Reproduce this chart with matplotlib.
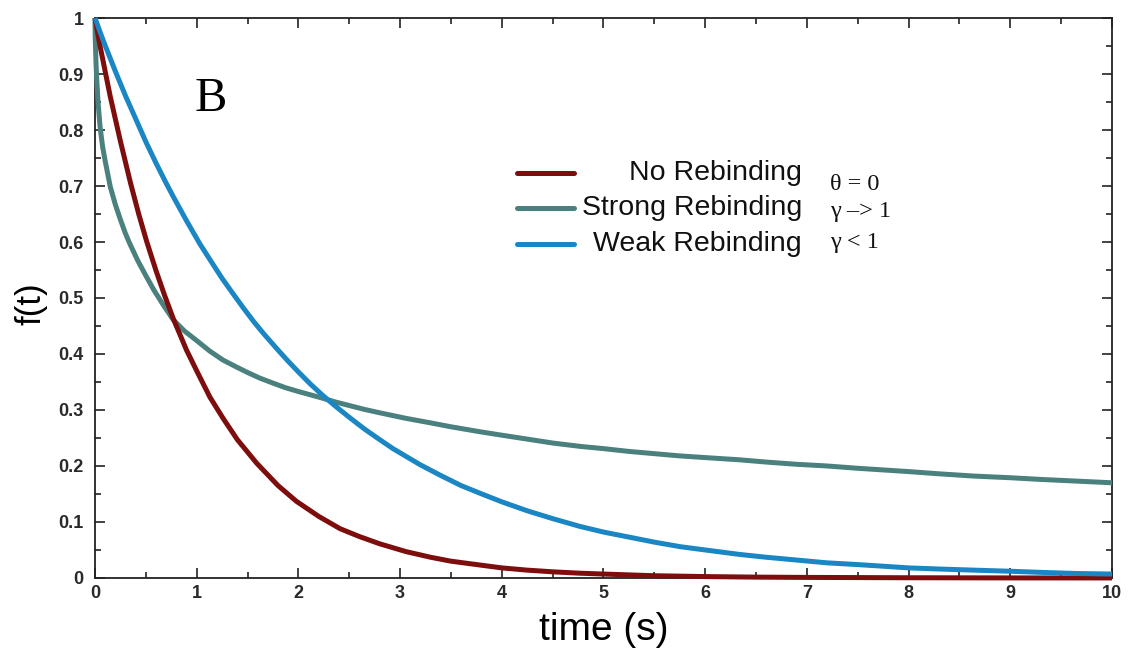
import matplotlib
matplotlib.use("Agg")
import matplotlib.pyplot as plt
from matplotlib.ticker import MultipleLocator, FuncFormatter
from matplotlib.lines import Line2D

# ---- data ----
x_none = [0, 0.05, 0.1, 0.15, 0.25, 0.35, 0.43, 0.51, 0.6, 0.68, 0.77, 0.9,
          1.0, 1.13, 1.26, 1.4, 1.59, 1.8, 1.98, 2.2, 2.41, 2.6, 2.8, 3.06,
          3.3, 3.5, 3.79, 4.0, 4.25, 4.5, 4.77, 5.0, 5.5, 6.0, 6.5, 7.0, 8.0,
          9.0, 10.0]
y_none = [1.0, 0.95, 0.905, 0.86, 0.78, 0.705, 0.65, 0.60, 0.549, 0.507,
          0.463, 0.407, 0.37, 0.323, 0.285, 0.247, 0.205, 0.165, 0.137, 0.11,
          0.088, 0.074, 0.061, 0.047, 0.037, 0.030, 0.023, 0.018, 0.014,
          0.011, 0.0085, 0.007, 0.004, 0.0025, 0.0015, 0.001, 0.0004, 0.0001,
          0.0]

x_strong = [0, 0.002, 0.005, 0.01, 0.016, 0.03, 0.05, 0.075, 0.1, 0.15, 0.2,
            0.25, 0.3, 0.34, 0.42, 0.5, 0.58, 0.67, 0.77, 0.88, 1.0, 1.13,
            1.26, 1.4, 1.5, 1.62, 1.75, 1.87, 2.0, 2.12, 2.24, 2.37, 2.5,
            2.65, 2.8, 3.06, 3.3, 3.5, 3.79, 4.0, 4.25, 4.5, 4.77, 5.0, 5.25,
            5.5, 5.75, 6.0, 6.34, 6.6, 6.9, 7.2, 7.49, 8.0, 8.3, 8.64, 9.0,
            9.3, 9.65, 10.0]
y_strong = [1.0, 0.97, 0.95, 0.92, 0.895, 0.85, 0.806, 0.77, 0.745, 0.699,
            0.667, 0.64, 0.615, 0.598, 0.567, 0.54, 0.514, 0.488, 0.461,
            0.441, 0.424, 0.405, 0.389, 0.376, 0.367, 0.357, 0.348, 0.340,
            0.333, 0.327, 0.321, 0.314, 0.308, 0.301, 0.295, 0.285, 0.277,
            0.270, 0.261, 0.255, 0.248, 0.241, 0.235, 0.231, 0.226, 0.222,
            0.218, 0.215, 0.211, 0.207, 0.203, 0.200, 0.196, 0.190, 0.186,
            0.182, 0.179, 0.176, 0.173, 0.170]

x_weak = [0, 0.05, 0.1, 0.2, 0.3, 0.41, 0.5, 0.6, 0.7, 0.77, 0.9, 1.03, 1.15,
          1.25, 1.36, 1.46, 1.56, 1.66, 1.8, 1.9, 2.0, 2.12, 2.24, 2.37, 2.5,
          2.65, 2.8, 2.93, 3.06, 3.2, 3.4, 3.6, 3.79, 4.0, 4.25, 4.5, 4.77,
          5.0, 5.25, 5.5, 5.75, 6.0, 6.34, 6.6, 6.9, 7.2, 7.49, 7.75, 8.0,
          8.3, 8.64, 9.0, 9.3, 9.65, 10.0]
y_weak = [1.0, 0.975, 0.951, 0.905, 0.861, 0.816, 0.779, 0.741, 0.705,
          0.681, 0.638, 0.597, 0.563, 0.535, 0.507, 0.482, 0.458, 0.436,
          0.407, 0.387, 0.368, 0.346, 0.326, 0.306, 0.287, 0.266, 0.247,
          0.231, 0.217, 0.202, 0.183, 0.165, 0.151, 0.136, 0.120, 0.106,
          0.092, 0.082, 0.073, 0.064, 0.056, 0.050, 0.042, 0.037, 0.032,
          0.027, 0.024, 0.021, 0.018, 0.016, 0.014, 0.012, 0.010, 0.008,
          0.007]

series_labels = ["No Rebinding", "Strong Rebinding", "Weak Rebinding"]
series_notes = ["\u03b8 = 0", "\u03b3 \u2013> 1", "\u03b3 < 1"]
colors = ["#7e0d0d", "#4a817f", "#1a86c4"]

x_ticks = [0, 1, 2, 3, 4, 5, 6, 7, 8, 9, 10]
y_ticks = [0, 0.1, 0.2, 0.3, 0.4, 0.5, 0.6, 0.7, 0.8, 0.9, 1.0]

sans = ["Liberation Sans", "DejaVu Sans"]
serif = ["Liberation Serif", "DejaVu Serif"]

fig = plt.figure(figsize=(11.28, 6.53), dpi=100)
ax = fig.add_axes([0.0842, 0.1149, 0.9016, 0.8575])

lw = 3.6
ax.plot(x_strong, y_strong, color=colors[1], lw=lw, zorder=3, clip_on=False,
        solid_capstyle="butt", solid_joinstyle="round")
ax.plot(x_none, y_none, color=colors[0], lw=lw, zorder=4, clip_on=False,
        solid_capstyle="butt", solid_joinstyle="round")
ax.plot(x_weak, y_weak, color=colors[2], lw=lw, zorder=5, clip_on=False,
        solid_capstyle="butt", solid_joinstyle="round")

ax.set_xlim(0, 10)
ax.set_ylim(0, 1)
ax.set_xticks(x_ticks)
ax.set_yticks(y_ticks)
ax.xaxis.set_minor_locator(MultipleLocator(0.5))
ax.yaxis.set_minor_locator(MultipleLocator(0.05))
ax.yaxis.set_major_formatter(FuncFormatter(lambda v, p: "%g" % v))
ax.xaxis.set_major_formatter(FuncFormatter(lambda v, p: "%g" % v))
ax.tick_params(which="both", direction="in", top=True, right=True,
               color="#222222", width=1.2)
ax.tick_params(which="major", length=7, labelsize=13)
ax.tick_params(axis="y", which="major", pad=8)
ax.tick_params(axis="x", which="major", pad=5)
ax.tick_params(which="minor", length=4)
for lab in ax.get_xticklabels() + ax.get_yticklabels():
    lab.set_family(sans)
    lab.set_fontweight("bold")
    lab.set_color("#2a2a2a")
for sp in ax.spines.values():
    sp.set_linewidth(1.3)
    sp.set_color("#222222")

ax.set_xlabel("time (s)", fontsize=28, family=sans)
ax.xaxis.set_label_coords(0.5, -0.061, transform=ax.transAxes)
ax.xaxis.label.set_va("top")
ax.set_ylabel("f(t)", fontsize=25, family=sans)
ax.yaxis.set_label_coords(-0.047, 0.49)

ax.text(1.14, 0.855, "B", fontsize=35, family=serif, ha="center",
        va="center")

# legend drawn manually (right-aligned labels)
leg_y = [0.723, 0.661, 0.597]
note_y = [0.703, 0.654, 0.600]
for i in range(3):
    ax.add_line(Line2D([4.15, 4.71], [leg_y[i], leg_y[i]], color=colors[i],
                       lw=3.6, solid_capstyle="round", zorder=6))
    ax.text(6.95, leg_y[i], series_labels[i], fontsize=20.5, family=sans,
            ha="right", va="center", color="#111111")
    ax.text(7.23, note_y[i], series_notes[i], fontsize=17.5, family=serif,
            ha="left", va="center", color="#111111")

fig.savefig("out.png", dpi=100)
